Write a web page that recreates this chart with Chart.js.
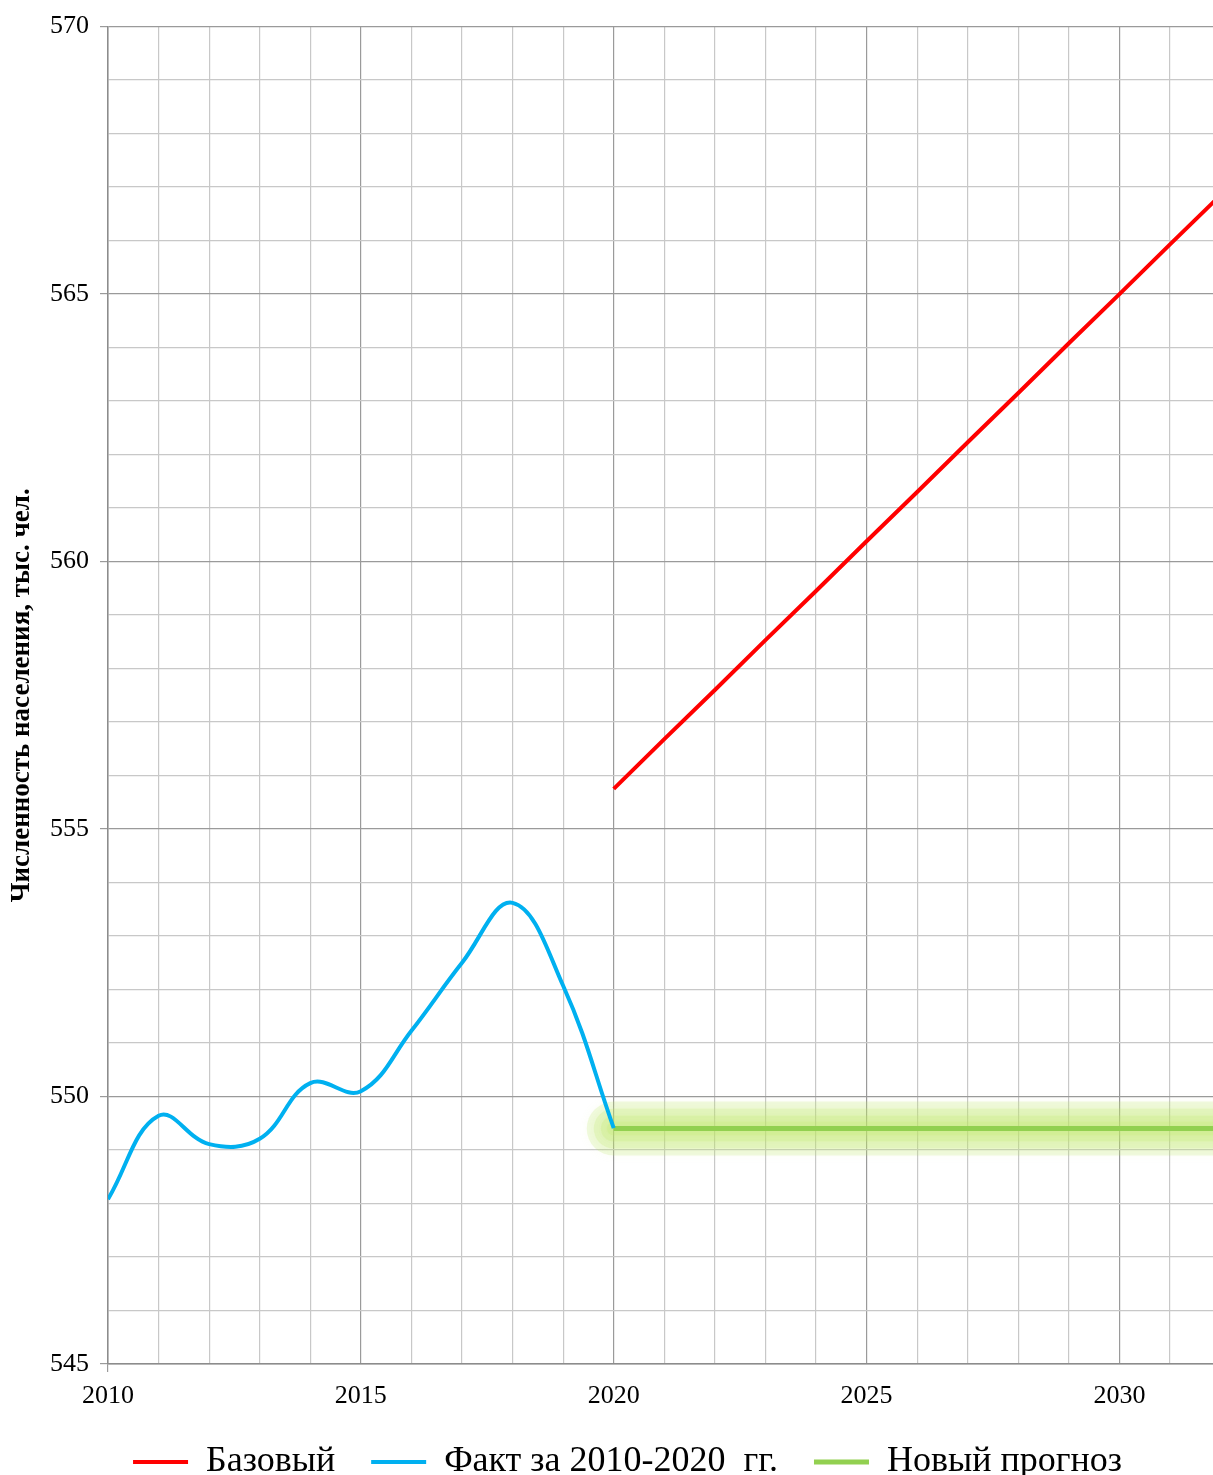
<!DOCTYPE html>
<html lang="ru">
<head>
<meta charset="UTF-8">
<title>Численность населения</title>
<script src="https://cdn.jsdelivr.net/npm/chart.js"></script>
<style>
  html, body { margin: 0; padding: 0; background: #fff; }
  #wrap { width: 1213px; height: 1475px; }
</style>
</head>
<body>
<div id="wrap"><canvas id="popChart"></canvas></div>
<script>
// data
const factYears = [2010, 2011, 2012, 2013, 2014, 2015, 2016, 2017, 2018, 2019, 2020];
const factValues = [548.08, 549.64, 549.11, 549.21, 550.25, 550.10, 551.23, 552.50, 553.62, 552.07, 549.41];

const baseYears = [2020, 2021, 2022, 2023, 2024, 2025, 2026, 2027, 2028, 2029, 2030, 2031, 2032];
const baseValues = [555.75, 556.68, 557.60, 558.53, 559.45, 560.38, 561.30, 562.23, 563.15, 564.08, 565.00, 565.93, 566.85];

const newYears = [2020, 2032];
const newValues = [549.40, 549.40];

const yTickLabels = [545, 550, 555, 560, 565, 570];
const xTickLabels = [2010, 2015, 2020, 2025, 2030];

const toPoints = (xs, ys) => xs.map((x, i) => ({ x: x, y: ys[i] }));

const serif = "'Liberation Serif', 'Times New Roman', serif";

const isMajor = (v, list) => list.includes(v);

// soft glow around the new forecast: a few wide translucent strokes stacked
const glowSets = [54, 40, 26, 14].map(w => ({
  label: 'glow',
  data: toPoints(newYears, newValues),
  borderColor: 'rgba(190, 230, 110, 0.22)',
  borderWidth: w,
  borderCapStyle: 'round',
  pointRadius: 0,
  tension: 0,
  order: 2
}));

const ctx = document.getElementById('popChart').getContext('2d');
new Chart(ctx, {
  type: 'line',
  data: {
    datasets: [
      {
        label: 'Базовый',
        data: toPoints(baseYears, baseValues),
        borderColor: '#ff0000',
        backgroundColor: '#ff0000',
        borderWidth: 4,
        pointRadius: 0,
        pointStyle: 'line',
        tension: 0
      },
      {
        label: 'Факт за 2010-2020  гг.',
        data: toPoints(factYears, factValues),
        borderColor: '#00b0f0',
        backgroundColor: '#00b0f0',
        borderWidth: 4,
        pointRadius: 0,
        pointStyle: 'line',
        tension: 0.4
      },
      {
        label: 'Новый прогноз',
        data: toPoints(newYears, newValues),
        borderColor: '#92d050',
        backgroundColor: '#92d050',
        borderWidth: 5,
        pointRadius: 0,
        pointStyle: 'line',
        tension: 0,
        order: 1
      },
      ...glowSets
    ]
  },
  options: {
    responsive: true,
    maintainAspectRatio: false,
    animation: false,
    layout: { padding: { left: 0, right: 0, top: 26, bottom: -15 } },
    plugins: {
      tooltip: { enabled: false },
      legend: {
        position: 'bottom',
        labels: {
          filter: item => item.text !== 'glow',
          usePointStyle: true,
          pointStyleWidth: 55,
          color: '#000',
          padding: 36,
          font: { family: serif, size: 36 }
        }
      }
    },
    scales: {
      x: {
        type: 'linear',
        min: 2010,
        max: 2031.85,
        afterBuildTicks: scale => {
          scale.ticks = [];
          for (let v = 2010; v <= 2031; v++) scale.ticks.push({ value: v });
        },
        afterFit: scale => { scale.height = 44; },
        ticks: {
          stepSize: 1,
          autoSkip: false,
          maxRotation: 0,
          color: '#000',
          padding: 9,
          font: { family: serif, size: 26 },
          callback: v => isMajor(v, xTickLabels) ? String(v) : ''
        },
        grid: {
          color: c => isMajor(c.tick.value, xTickLabels) ? '#9a9a9a' : '#c8c8c8',
          lineWidth: 1.2,
          tickLength: 8,
          tickColor: c => c.tick.value === 2010 ? '#9a9a9a' : 'rgba(0,0,0,0)'
        },
        border: { color: '#8c8c8c', width: 1.5 }
      },
      y: {
        min: 545,
        max: 570,
        afterFit: scale => { scale.width = 108; },
        ticks: {
          stepSize: 1,
          autoSkip: false,
          color: '#000',
          padding: 11,
          font: { family: serif, size: 26 },
          callback: v => isMajor(v, yTickLabels) ? String(v) : ''
        },
        grid: {
          color: c => isMajor(c.tick.value, yTickLabels) ? '#9a9a9a' : '#c8c8c8',
          lineWidth: 1.2,
          tickLength: 8,
          tickColor: c => isMajor(c.tick.value, yTickLabels) ? '#9a9a9a' : 'rgba(0,0,0,0)'
        },
        border: { color: '#8c8c8c', width: 1.5 },
        title: {
          display: true,
          text: 'Численность населения, тыс. чел.',
          color: '#000',
          font: { family: serif, size: 27, weight: 'bold' },
          padding: { top: 6, bottom: 4 }
        }
      }
    }
  },
  plugins: [{
    id: 'glowBlur',
    beforeDatasetDraw(chart, args) {
      if (chart.data.datasets[args.index].label === 'glow') {
        chart.ctx.save();
        chart.ctx.shadowColor = 'rgba(190, 230, 110, 0.3)';
        chart.ctx.shadowBlur = 10;
      }
    },
    afterDatasetDraw(chart, args) {
      if (chart.data.datasets[args.index].label === 'glow') chart.ctx.restore();
    }
  }, {
    // legend row sits a bit right of centre in the original
    id: 'legendNudge',
    afterLayout(chart) {
      chart.legend.left += 21;
      chart.legend.right += 21;
    }
  }]
});
</script>
</body>
</html>
